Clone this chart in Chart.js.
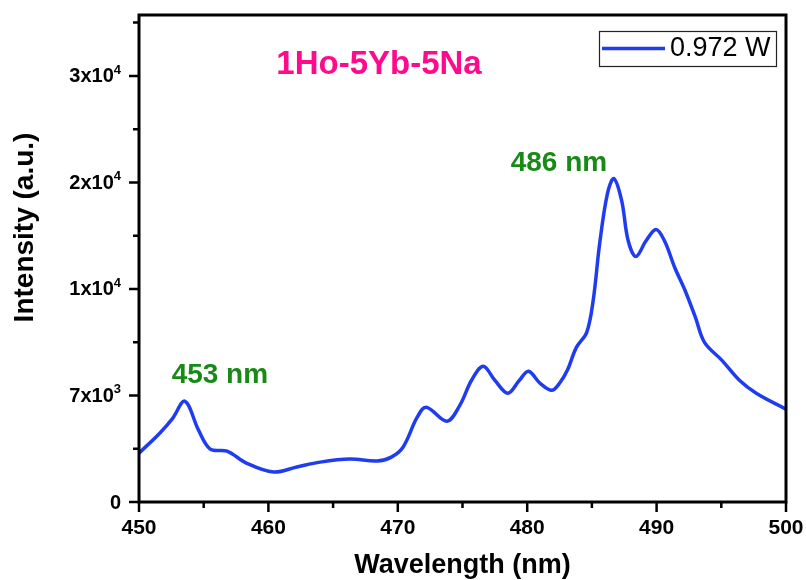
<!DOCTYPE html>
<html>
<head>
<meta charset="utf-8">
<script src="https://cdn.jsdelivr.net/npm/chart.js@4.4.1/dist/chart.umd.min.js"></script>
<style>
  html, body { margin: 0; padding: 0; background: #fff; }
  #wrap { width: 806px; height: 580px; }
</style>
</head>
<body>
<div id="wrap"><canvas id="c" width="806" height="580"></canvas></div>
<script>
// spectrum
var wavelength = [450, 451.6, 452.6, 453.55, 454.6, 455.5, 456.8, 458.3, 460.4, 462.2, 464, 466.3, 468.4, 469.5,
    470.4, 471.5, 472.2, 473.8, 474.8, 475.7, 476.6, 477.5, 478.5, 479.4, 480.1, 481.0, 481.9, 482.5, 483.1,
    483.8, 484.6, 485.1, 485.6, 486.2, 486.7, 487.3, 487.8, 488.4, 489.2, 489.95, 490.6, 491.4, 492.2, 493,
    493.7, 495.05, 496.4, 497.7, 500];
var intensity = [3210, 4520, 5500, 6620, 4720, 3480, 3340, 2560, 1970, 2300, 2620, 2820, 2690, 2950,
    3600, 5570, 6230, 5310, 6360, 8000, 8920, 8000, 7150, 8000, 8590, 7800, 7340, 7800, 8650,
    10160, 11150, 13250, 16980, 20260, 21250, 19800, 17180, 16130, 17180, 17900, 17180, 15410, 13900, 12130,
    10490, 9310, 8000, 7150, 6100];

var seriesLabel = "0.972 W";
var sampleName = "1Ho-5Yb-5Na";
// label centres, in data units
var peakNotes = [{ text: "453 nm", x: 456.25, y: 8330 }, { text: "486 nm", x: 482.45, y: 22230 }];

var xMajor = [450, 460, 470, 480, 490, 500];
var xMinor = [455, 465, 475, 485, 495];
var yMajor = [0, 7000, 14000, 21000, 28000];
var yMinor = [3500, 10500, 17500, 24500, 31500];
var yTickBase = ["0", "7x10", "1x10", "2x10", "3x10"];
var yTickExp = ["", "3", "4", "4", "4"];

var FONT = "'Liberation Sans', Arial, sans-serif";
var lineBlue = "#1f3cf0";

var points = wavelength.map(function (w, i) { return { x: w, y: intensity[i] }; });

var decorations = {
    id: "decorations",
    afterDraw: function (chart) {
        var ctx = chart.ctx;
        var area = chart.chartArea;
        var xs = chart.scales.x, ys = chart.scales.y;
        ctx.save();

        // frame
        ctx.strokeStyle = "#000";
        ctx.lineWidth = 3;
        ctx.strokeRect(area.left, area.top, area.right - area.left, area.bottom - area.top);

        // ticks, outward
        ctx.lineWidth = 2.5;
        ctx.beginPath();
        xMajor.forEach(function (v) {
            var px = xs.getPixelForValue(v);
            ctx.moveTo(px, area.bottom); ctx.lineTo(px, area.bottom + 10);
        });
        xMinor.forEach(function (v) {
            var px = xs.getPixelForValue(v);
            ctx.moveTo(px, area.bottom); ctx.lineTo(px, area.bottom + 6);
        });
        yMajor.forEach(function (v) {
            var py = ys.getPixelForValue(v);
            ctx.moveTo(area.left, py); ctx.lineTo(area.left - 10, py);
        });
        yMinor.forEach(function (v) {
            var py = ys.getPixelForValue(v);
            ctx.moveTo(area.left, py); ctx.lineTo(area.left - 6, py);
        });
        ctx.stroke();

        // x tick labels
        ctx.fillStyle = "#000";
        ctx.font = "bold 21px " + FONT;
        ctx.textAlign = "center";
        ctx.textBaseline = "middle";
        xMajor.forEach(function (v) {
            ctx.fillText(String(v), xs.getPixelForValue(v), area.bottom + 26);
        });

        // y tick labels with superscript exponent
        yMajor.forEach(function (v, i) {
            var py = ys.getPixelForValue(v);
            var right = 121;
            ctx.font = "bold 13px " + FONT;
            var ew = yTickExp[i] ? ctx.measureText(yTickExp[i]).width : 0;
            ctx.textAlign = "left";
            ctx.textBaseline = "alphabetic";
            if (yTickExp[i]) ctx.fillText(yTickExp[i], right - ew, py - 2);
            ctx.font = "bold 20px " + FONT;
            ctx.textAlign = "right";
            ctx.textBaseline = "middle";
            ctx.fillText(yTickBase[i], right - ew, py + 1);
        });

        // axis titles
        ctx.font = "bold 27px " + FONT;
        ctx.textAlign = "center";
        ctx.textBaseline = "middle";
        ctx.fillText("Wavelength (nm)", (area.left + area.right) / 2, 566);
        ctx.save();
        ctx.font = "bold 28px " + FONT;
        ctx.translate(25, (area.top + area.bottom) / 2 - 31);
        ctx.rotate(-Math.PI / 2);
        ctx.fillText("Intensity (a.u.)", 0, 0);
        ctx.restore();

        // sample name
        ctx.fillStyle = "#ff0a8c";
        ctx.font = "bold 33px " + FONT;
        ctx.fillText(sampleName, 379, 65);

        // peak notes
        ctx.fillStyle = "#178a17";
        ctx.font = "bold 28px " + FONT;
        peakNotes.forEach(function (n) {
            ctx.fillText(n.text, xs.getPixelForValue(n.x), ys.getPixelForValue(n.y));
        });

        // legend
        ctx.strokeStyle = "#222";
        ctx.lineWidth = 1.2;
        ctx.strokeRect(599.5, 31.5, 177, 35);
        ctx.strokeStyle = lineBlue;
        ctx.lineWidth = 3.5;
        ctx.beginPath();
        ctx.moveTo(602, 48.5); ctx.lineTo(665, 48.5);
        ctx.stroke();
        ctx.fillStyle = "#000";
        ctx.font = "27px " + FONT;
        ctx.textAlign = "left";
        ctx.fillText(chart.data.datasets[0].label, 670, 49);

        ctx.restore();
    }
};

new Chart(document.getElementById("c"), {
    type: "line",
    data: {
        datasets: [{
            label: seriesLabel,
            data: points,
            borderColor: lineBlue,
            borderWidth: 3.5,
            pointRadius: 0,
            fill: false,
            tension: 0.35
        }]
    },
    options: {
        responsive: false,
        animation: false,
        layout: { padding: { top: 15, right: 20, left: 0, bottom: 0 } },
        plugins: { legend: { display: false }, tooltip: { enabled: false } },
        scales: {
            x: {
                type: "linear", min: 450, max: 500,
                grid: { display: false }, border: { display: false },
                ticks: { display: false },
                afterFit: function (s) { s.height = 78; }
            },
            y: {
                min: 0, max: 32000,
                grid: { display: false }, border: { display: false },
                ticks: { display: false },
                afterFit: function (s) { s.width = 139; }
            }
        }
    },
    plugins: [decorations]
});
</script>
</body>
</html>
